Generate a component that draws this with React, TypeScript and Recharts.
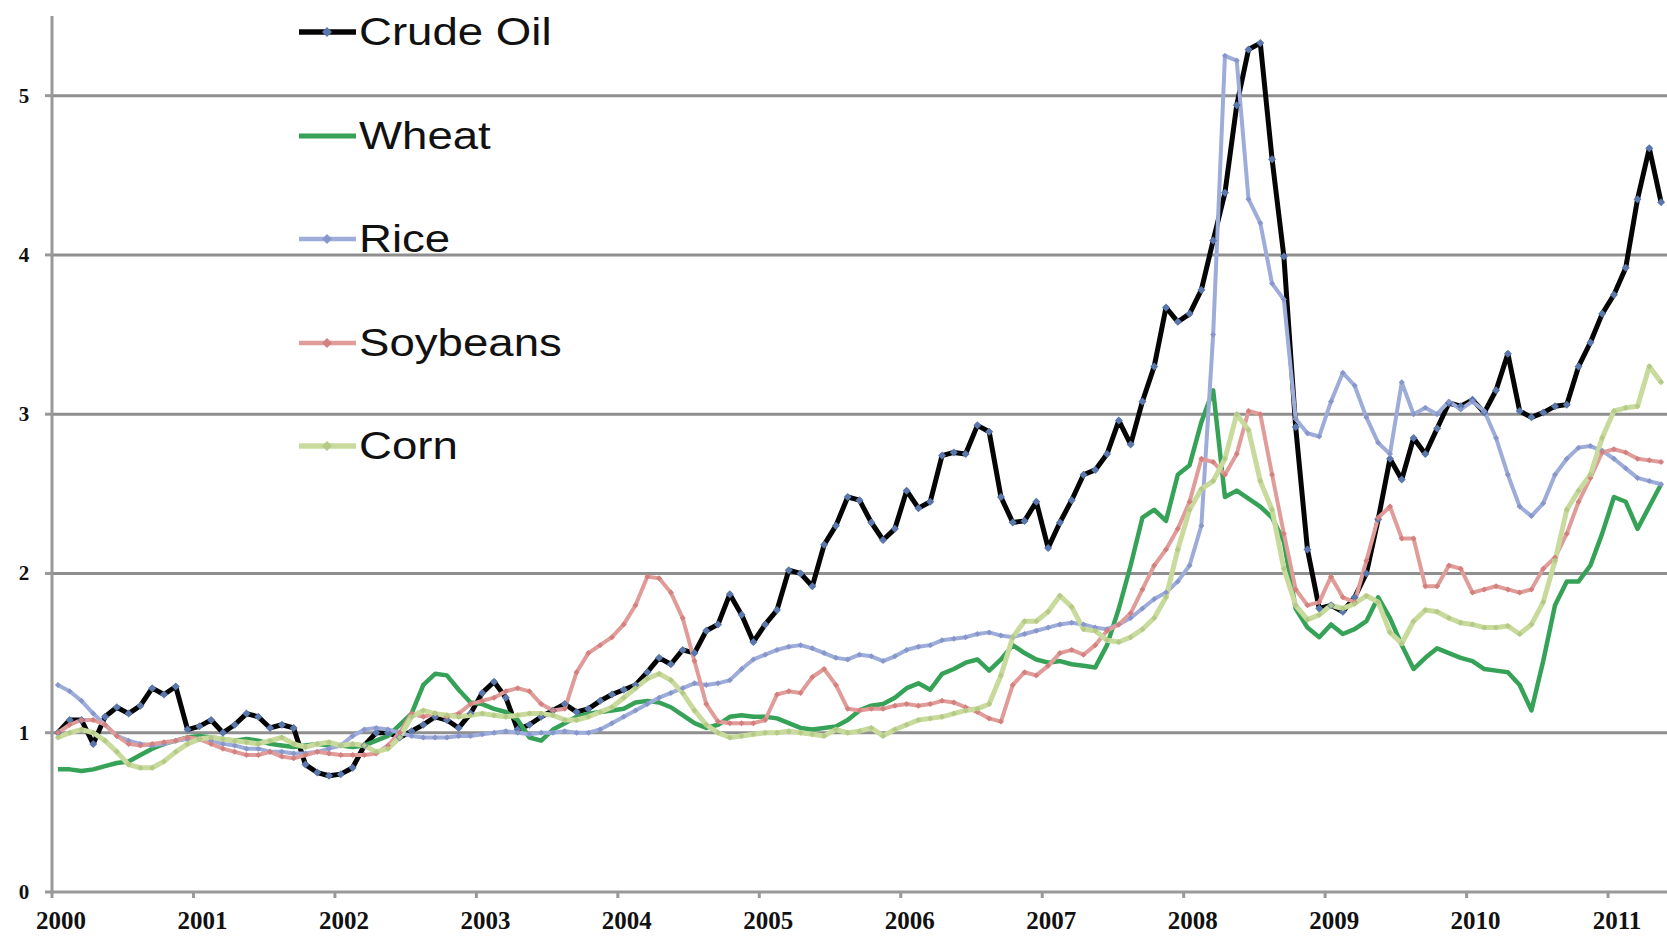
import React from 'react';
import { LineChart, Line, XAxis, YAxis, CartesianGrid, Legend } from 'recharts';

// monthly index values, Jan 2000 .. May 2011
const yearLabels = ['2000', '2001', '2002', '2003', '2004', '2005', '2006', '2007', '2008', '2009', '2010', '2011'];
const valueTicks = [0, 1, 2, 3, 4, 5];
const gridValues = [1, 2, 3, 4, 5];

const crudeOil = [
  1.00, 1.08, 1.08, 0.93, 1.10, 1.16, 1.12, 1.17, 1.28, 1.24, 1.29, 1.02,
  1.04, 1.08, 1.00, 1.05, 1.12, 1.10, 1.03, 1.05, 1.03, 0.80, 0.75, 0.73,
  0.74, 0.78, 0.92, 1.00, 1.00, 0.97, 1.01, 1.05, 1.10, 1.08, 1.03, 1.12,
  1.25, 1.32, 1.22, 1.02, 1.05, 1.10, 1.14, 1.18, 1.13, 1.15, 1.20, 1.24,
  1.27, 1.30, 1.38, 1.47, 1.43, 1.52, 1.50, 1.64, 1.68, 1.87, 1.74, 1.57,
  1.68, 1.77, 2.02, 2.00, 1.92, 2.18, 2.30, 2.48, 2.46, 2.32, 2.21, 2.28,
  2.52, 2.41, 2.45, 2.74, 2.76, 2.75, 2.93, 2.89, 2.48, 2.32, 2.33, 2.45,
  2.16, 2.32, 2.46, 2.62, 2.65, 2.75, 2.96, 2.81, 3.08, 3.30, 3.67, 3.58,
  3.63, 3.78, 4.09, 4.39, 4.94, 5.29, 5.33, 4.60, 3.99, 2.92, 2.15, 1.78,
  1.80, 1.76, 1.85, 2.00, 2.34, 2.72, 2.59, 2.85, 2.75, 2.91, 3.07, 3.05,
  3.09, 3.01, 3.15, 3.38, 3.02, 2.98, 3.01, 3.05, 3.06, 3.30, 3.45, 3.63,
  3.75, 3.92, 4.35, 4.67, 4.33,
];

const wheat = [
  0.77, 0.77, 0.76, 0.77, 0.79, 0.81, 0.82, 0.86, 0.90, 0.93, 0.95, 0.97,
  0.98, 0.97, 0.96, 0.95, 0.96, 0.95, 0.93, 0.92, 0.91, 0.92, 0.93, 0.92,
  0.92, 0.91, 0.92, 0.95, 0.98, 1.05, 1.12, 1.30, 1.37, 1.36, 1.27, 1.19,
  1.18, 1.15, 1.13, 1.08, 0.97, 0.95, 1.02, 1.06, 1.10, 1.12, 1.13, 1.14,
  1.15, 1.19, 1.20, 1.19, 1.16, 1.11, 1.06, 1.03, 1.05, 1.10, 1.11, 1.10,
  1.10, 1.09, 1.06, 1.03, 1.02, 1.03, 1.04, 1.08, 1.14, 1.17, 1.18, 1.22,
  1.28, 1.31, 1.27, 1.37, 1.40, 1.44, 1.46, 1.39, 1.46, 1.55, 1.50, 1.46,
  1.44, 1.45, 1.43, 1.42, 1.41, 1.55, 1.78, 2.05, 2.35, 2.40, 2.33, 2.62,
  2.68, 2.95, 3.15, 2.48, 2.52, 2.47, 2.42, 2.35, 2.20, 1.78, 1.66, 1.60,
  1.68, 1.62, 1.65, 1.70, 1.85, 1.72, 1.55, 1.40, 1.47, 1.53, 1.50, 1.47,
  1.45, 1.40, 1.39, 1.38, 1.30, 1.14, 1.45, 1.80, 1.95, 1.95, 2.05, 2.25,
  2.48, 2.45, 2.28, 2.42, 2.56,
];

const rice = [
  1.30, 1.26, 1.20, 1.12, 1.05, 0.98, 0.95, 0.93, 0.92, 0.93, 0.95, 0.96,
  0.96, 0.95, 0.93, 0.92, 0.90, 0.90, 0.88, 0.88, 0.87, 0.87, 0.88, 0.90,
  0.92, 0.98, 1.02, 1.03, 1.02, 1.00, 0.98, 0.97, 0.97, 0.97, 0.98, 0.98,
  0.99, 1.00, 1.01, 1.00, 0.99, 1.00, 1.00, 1.01, 1.00, 1.00, 1.02, 1.06,
  1.10, 1.14, 1.18, 1.22, 1.25, 1.28, 1.31, 1.30, 1.31, 1.33, 1.40, 1.46,
  1.49, 1.52, 1.54, 1.55, 1.53, 1.50, 1.47, 1.46, 1.49, 1.48, 1.45, 1.48,
  1.52, 1.54, 1.55, 1.58, 1.59, 1.60, 1.62, 1.63, 1.61, 1.60, 1.62, 1.64,
  1.66, 1.68, 1.69, 1.68, 1.66, 1.65, 1.68, 1.72, 1.78, 1.84, 1.88, 1.95,
  2.05, 2.30, 3.50, 5.25, 5.22, 4.35, 4.20, 3.82, 3.72, 2.97, 2.88, 2.86,
  3.08, 3.26, 3.18, 2.98, 2.82, 2.75, 3.20, 3.00, 3.04, 3.00, 3.08, 3.03,
  3.08, 3.02, 2.85, 2.62, 2.42, 2.36, 2.44, 2.62, 2.72, 2.79, 2.80, 2.77,
  2.72, 2.66, 2.60, 2.58, 2.56,
];

const soybeans = [
  1.00, 1.05, 1.08, 1.08, 1.05, 0.98, 0.93, 0.92, 0.93, 0.94, 0.95, 0.97,
  0.96, 0.93, 0.90, 0.88, 0.86, 0.86, 0.88, 0.85, 0.84, 0.86, 0.88, 0.87,
  0.86, 0.86, 0.86, 0.87, 0.92, 1.00, 1.12, 1.10, 1.12, 1.10, 1.12, 1.18,
  1.20, 1.22, 1.26, 1.28, 1.26, 1.18, 1.14, 1.15, 1.38, 1.50, 1.55, 1.60,
  1.68, 1.80, 1.98, 1.97, 1.88, 1.72, 1.45, 1.18, 1.07, 1.06, 1.06, 1.06,
  1.08, 1.24, 1.26, 1.25, 1.35, 1.40, 1.30, 1.15, 1.14, 1.15, 1.15, 1.17,
  1.18, 1.17, 1.18, 1.20, 1.19, 1.16, 1.13, 1.09, 1.07, 1.30, 1.38, 1.36,
  1.42, 1.50, 1.52, 1.49, 1.55, 1.64, 1.68, 1.75, 1.90, 2.05, 2.15, 2.28,
  2.45, 2.72, 2.70, 2.62, 2.75, 3.02, 3.00, 2.62, 2.25, 1.90, 1.80, 1.82,
  1.98, 1.85, 1.82, 2.08, 2.35, 2.42, 2.22, 2.22, 1.92, 1.92, 2.05, 2.03,
  1.88, 1.90, 1.92, 1.90, 1.88, 1.90, 2.03, 2.10, 2.25, 2.45, 2.60, 2.76,
  2.78, 2.76, 2.72, 2.71, 2.70,
];

const corn = [
  0.97, 1.00, 1.02, 1.00, 0.95, 0.88, 0.80, 0.78, 0.78, 0.82, 0.88, 0.93,
  0.96, 0.97, 0.96, 0.95, 0.94, 0.93, 0.95, 0.97, 0.93, 0.91, 0.93, 0.94,
  0.92, 0.93, 0.92, 0.88, 0.90, 0.97, 1.10, 1.14, 1.12, 1.11, 1.10, 1.11,
  1.12, 1.11, 1.10, 1.11, 1.12, 1.12, 1.11, 1.08, 1.08, 1.10, 1.13, 1.16,
  1.22, 1.28, 1.34, 1.37, 1.33, 1.25, 1.14, 1.05, 1.00, 0.97, 0.98, 0.99,
  1.00, 1.00, 1.01, 1.00, 0.99, 0.98, 1.02, 1.00, 1.01, 1.03, 0.98, 1.02,
  1.05, 1.08, 1.09, 1.10, 1.12, 1.14, 1.15, 1.18, 1.36, 1.60, 1.70, 1.70,
  1.76, 1.86, 1.79, 1.65, 1.64, 1.58, 1.57, 1.60, 1.65, 1.72, 1.85, 2.15,
  2.40, 2.53, 2.58, 2.72, 3.00, 2.90, 2.58, 2.40, 2.03, 1.80, 1.71, 1.74,
  1.80, 1.78, 1.81, 1.86, 1.82, 1.63, 1.56, 1.70, 1.77, 1.76, 1.72, 1.69,
  1.68, 1.66, 1.66, 1.67, 1.62, 1.68, 1.82, 2.08, 2.40, 2.52, 2.62, 2.85,
  3.02, 3.04, 3.05, 3.30, 3.20,
];

const data = crudeOil.map((v, i) => ({
  month: i + 0.5,
  crude: v,
  wheat: wheat[i],
  rice: rice[i],
  soybeans: soybeans[i],
  corn: corn[i],
}));

const series = [
  { key: 'crude', name: 'Crude Oil', color: '#050505', marker: '#5a78ad', width: 5 },
  { key: 'wheat', name: 'Wheat', color: '#35a257', marker: null, width: 4.5 },
  { key: 'rice', name: 'Rice', color: '#9dacd9', marker: '#8797cc', width: 4 },
  { key: 'soybeans', name: 'Soybeans', color: '#e09c99', marker: '#d4807e', width: 4 },
  { key: 'corn', name: 'Corn', color: '#c8da9c', marker: '#b5ca86', width: 5 },
];

const yearTicks = yearLabels.map((_, i) => i * 12);

const makeDot = (key: string, color: string, s: number) => (props: any) => {
  const { cx, cy, index } = props;
  if (cx == null || cy == null) return <g key={`${key}-${index}`} />;
  return (
    <path
      key={`${key}-${index}`}
      d={`M${cx},${cy - s}L${cx + s},${cy}L${cx},${cy + s}L${cx - s},${cy}Z`}
      fill={color}
    />
  );
};

const YearTick = (props: any) => {
  const { x, y, payload } = props;
  return (
    <text
      x={x + 9}
      y={y + 29}
      textAnchor="middle"
      fontFamily="'Liberation Serif', serif"
      fontWeight="bold"
      fontSize={25}
      fill="#111"
    >
      {yearLabels[Math.round(payload.value / 12)]}
    </text>
  );
};

const ValueTick = (props: any) => {
  const { y, payload } = props;
  return (
    <text
      x={24}
      y={y + 7}
      textAnchor="middle"
      fontFamily="'Liberation Serif', serif"
      fontWeight="bold"
      fontSize={21}
      fill="#111"
    >
      {payload.value}
    </text>
  );
};

const renderLegend = () => (
  <div style={{ position: 'relative', width: 700, height: 480 }}>
    {series.map((s, i) => {
      const cy = 32 + 103.5 * i;
      return (
        <div key={s.key} style={{ position: 'absolute', left: 0, top: cy - 28, height: 56, width: 700 }}>
          <svg width={60} height={20} style={{ position: 'absolute', left: 298, top: 18 }}>
            <line x1={1} y1={10} x2={58} y2={10} stroke={s.color} strokeWidth={s.width + 0.5} />
            {s.marker && <path d="M29,5L34,10L29,15L24,10Z" fill={s.marker} />}
          </svg>
          <div
            style={{
              position: 'absolute',
              left: 359,
              top: 0,
              lineHeight: '56px',
              fontFamily: "'Liberation Sans', Arial, sans-serif",
              fontSize: 38,
              color: '#111',
              transform: 'scaleX(1.2)',
              transformOrigin: 'left center',
              whiteSpace: 'nowrap',
            }}
          >
            {s.name}
          </div>
        </div>
      );
    })}
  </div>
);

export default function App() {
  return (
    <div style={{ position: 'absolute', left: 0, top: 0, width: 1667, height: 937, background: '#fff' }}>
      <LineChart width={1667} height={937} data={data} margin={{ top: 16, right: 0, bottom: 0, left: 0 }}>
        <CartesianGrid
          horizontal
          vertical={false}
          horizontalValues={gridValues}
          stroke="#8f8f8f"
          strokeWidth={3}
        />
        <XAxis
          type="number"
          dataKey="month"
          domain={[0, 137]}
          ticks={yearTicks}
          tick={<YearTick />}
          tickSize={6}
          height={45}
          stroke="#999"
          strokeWidth={3}
          interval={0}
        />
        <YAxis
          type="number"
          domain={[0, 5.5]}
          ticks={valueTicks}
          tick={<ValueTick />}
          tickSize={7}
          width={52}
          stroke="#999"
          strokeWidth={3}
          allowDataOverflow
          interval={0}
        />
        <Legend
          layout="vertical"
          align="center"
          verticalAlign="middle"
          content={renderLegend}
          wrapperStyle={{ left: 0, top: 0, width: 700, height: 480 }}
        />
        {series.map((s) => (
          <Line
            key={s.key}
            type="linear"
            dataKey={s.key}
            name={s.name}
            stroke={s.color}
            strokeWidth={s.width}
            strokeLinejoin="round"
            dot={s.marker ? makeDot(s.key, s.marker, s.key === 'crude' ? 4 : 3) : false}
            activeDot={false}
            isAnimationActive={false}
          />
        ))}
      </LineChart>
    </div>
  );
}
